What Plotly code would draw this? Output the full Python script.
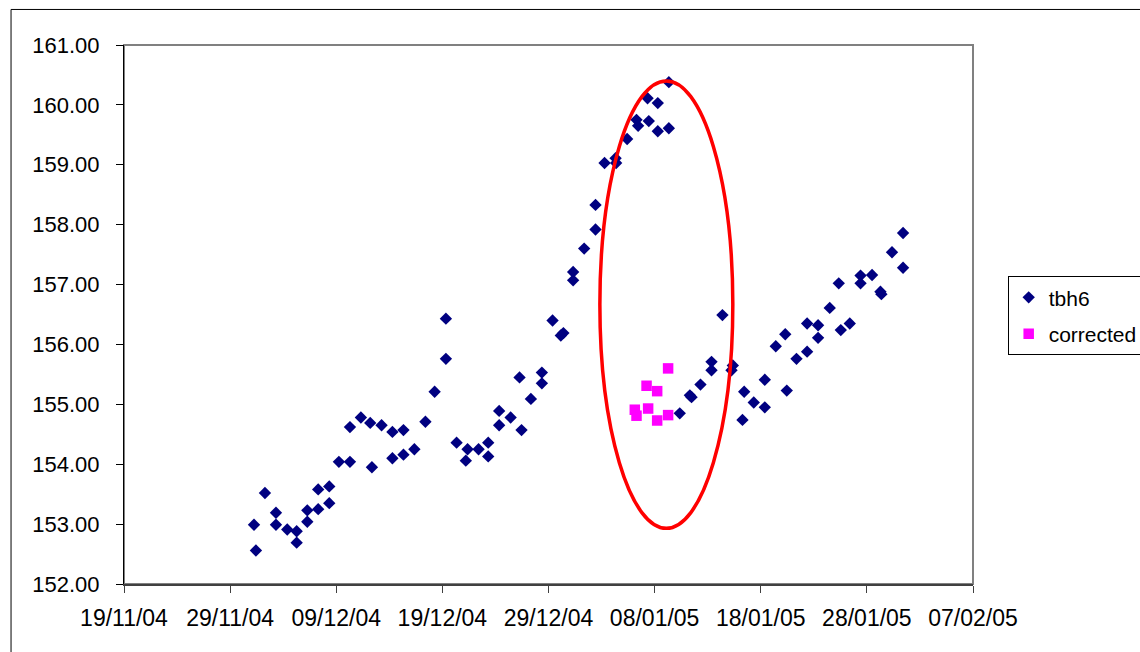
import plotly.graph_objects as go

tbh6_dates = [
"2004-12-01 06:00","2004-12-01 10:20","2004-12-02 06:45","2004-12-03 07:40","2004-12-03 07:40",
"2004-12-04 09:10","2004-12-05 06:30","2004-12-05 06:30","2004-12-06 06:30","2004-12-06 06:30",
"2004-12-07 07:10","2004-12-07 07:10","2004-12-08 08:10","2004-12-08 08:10","2004-12-09 06:00",
"2004-12-10 07:00","2004-12-10 07:00","2004-12-11 07:45","2004-12-12 04:50","2004-12-12 08:40",
"2004-12-13 06:30","2004-12-14 07:00","2004-12-14 07:00","2004-12-15 08:00","2004-12-15 08:00",
"2004-12-16 08:40","2004-12-17 09:40","2004-12-18 06:30","2004-12-19 08:00","2004-12-19 08:00",
"2004-12-20 08:10","2004-12-21 05:00","2004-12-21 09:00","2004-12-22 09:50","2004-12-23 07:40",
"2004-12-23 07:40","2004-12-24 08:25","2004-12-24 08:25","2004-12-25 10:20","2004-12-26 06:30",
"2004-12-26 11:00","2004-12-27 08:10","2004-12-28 09:00","2004-12-28 09:00","2004-12-29 09:10",
"2004-12-30 03:50","2004-12-30 09:40","2004-12-31 07:40","2004-12-31 07:40","2005-01-01 08:40",
"2005-01-02 10:20","2005-01-02 10:20","2005-01-03 06:45","2005-01-04 07:40","2005-01-04 09:00",
"2005-01-05 09:50","2005-01-06 07:00","2005-01-06 10:40","2005-01-07 08:00","2005-01-07 10:50",
"2005-01-08 07:10","2005-01-08 07:10","2005-01-09 08:10","2005-01-09 08:10","2005-01-10 08:50",
"2005-01-11 07:40","2005-01-11 11:30","2005-01-12 07:40","2005-01-13 08:40","2005-01-13 08:40",
"2005-01-14 09:20","2005-01-15 08:50","2005-01-15 05:50","2005-01-16 06:40","2005-01-16 10:30",
"2005-01-17 08:10","2005-01-18 09:10","2005-01-18 09:10","2005-01-19 10:00","2005-01-20 07:25",
"2005-01-20 10:50","2005-01-21 08:50","2005-01-22 08:50","2005-01-22 08:50","2005-01-23 09:40",
"2005-01-23 09:40","2005-01-24 12:00","2005-01-25 08:25","2005-01-25 13:00","2005-01-26 09:20",
"2005-01-27 09:40","2005-01-27 09:40","2005-01-28 11:45","2005-01-29 06:40","2005-01-29 08:50",
"2005-01-30 08:50","2005-01-31 09:50","2005-01-31 09:50"]

tbh6_values = [
152.99,152.56,153.52,153.19,152.99,
152.91,152.88,152.69,153.23,153.04,
153.58,153.25,153.63,153.35,154.04,
154.04,154.62,154.78,154.69,153.95,
154.65,154.54,154.10,154.57,154.16,
154.25,154.71,155.21,156.43,155.76,
154.36,154.06,154.25,154.25,154.36,
154.13,154.89,154.65,154.78,155.45,
154.57,155.09,155.53,155.35,156.40,
156.15,156.19,157.21,157.07,157.60,
158.33,157.92,159.03,159.11,159.03,
159.43,159.75,159.65,160.11,159.73,
160.03,159.56,160.38,159.61,154.85,
155.15,155.12,155.33,155.71,155.57,
156.49,155.65,155.57,154.74,155.21,
155.03,154.95,155.41,155.97,156.17,
155.23,155.76,156.35,155.88,156.32,
156.11,156.61,157.02,156.24,156.35,
157.15,157.02,157.16,156.88,156.84,
157.54,157.86,157.28]

corrected_dates = [
"2005-01-06 03:10","2005-01-06 07:00","2005-01-07 05:45","2005-01-07 09:20",
"2005-01-08 05:45","2005-01-08 05:45","2005-01-09 06:30","2005-01-09 06:30"]
corrected_values = [154.91,154.81,155.31,154.93,155.22,154.73,155.60,154.82]

# highlight ellipse bounds (data coordinates)
ellipse_x = ["2005-01-02 20:10", "2005-01-15 08:50"]
ellipse_y = [152.93, 160.40]

x_range = ["2004-11-19", "2005-02-07"]
y_range = [152, 161]

FONT = "Arial, Liberation Sans, sans-serif"

fig = go.Figure()
fig.add_trace(go.Scatter(
    x=tbh6_dates, y=tbh6_values, mode="markers", name="tbh6", legendgroup="a",
    marker=dict(symbol="diamond", size=9.5, color="#000080", line=dict(width=0)),
))
fig.add_trace(go.Scatter(
    x=corrected_dates, y=corrected_values, mode="markers", name="corrected", legendgroup="b",
    marker=dict(symbol="square", size=10.5, color="#FF00FF", line=dict(width=0)),
))

shapes = [
    # plot area border (gray)
    dict(type="rect", xref="paper", yref="paper", x0=0, x1=1, y0=0, y1=1,
         line=dict(color="#808080", width=2), layer="below"),
    # outer chart border
    dict(type="rect", xref="paper", yref="paper",
         x0=(11 - 124) / 849.3, x1=(1160 - 124) / 849.3,
         y0=-(680 - 583.5) / 538.5, y1=1 + (45 - 9.5) / 538.5,
         line=dict(color="black", width=1)),
    # red ellipse
    dict(type="circle", xref="x", yref="y",
         x0=ellipse_x[0], x1=ellipse_x[1], y0=ellipse_y[0], y1=ellipse_y[1],
         line=dict(color="#FF0000", width=3.5)),
]

fig.update_layout(
    width=1140, height=652,
    margin=dict(l=124, r=167, t=45, b=68, pad=0, autoexpand=False),
    paper_bgcolor="white", plot_bgcolor="white",
    font=dict(family=FONT, size=22, color="black"),
    showlegend=True,
    legend=dict(
        x=(1008 - 124) / 849.3, y=(583.5 - 276) / 538.5,
        xanchor="left", yanchor="top",
        bordercolor="black", borderwidth=1, bgcolor="white",
        font=dict(family=FONT, size=21, color="black"),
        itemwidth=30, tracegroupgap=6,
    ),
    xaxis=dict(
        type="date", range=x_range, automargin=False,
        tick0="2004-11-19", dtick=10 * 24 * 3600 * 1000,
        tickformat="%d/%m/%y",
        showgrid=False, zeroline=False,
        showline=True, linecolor="#404040", linewidth=2,
        ticks="outside", ticklen=7, tickcolor="#404040", tickwidth=1,
        tickfont=dict(family=FONT, size=23, color="black"),
        ticklabelstandoff=5,
    ),
    yaxis=dict(
        range=y_range, dtick=1, tick0=152, tickformat=".2f", automargin=False,
        showgrid=False, zeroline=False,
        showline=True, linecolor="black", linewidth=1,
        ticks="outside", ticklen=7, tickcolor="black", tickwidth=1,
        tickfont=dict(family=FONT, size=22, color="black"),
        ticklabelstandoff=12,
    ),
    shapes=shapes,
)

fig.write_html("out.html")
